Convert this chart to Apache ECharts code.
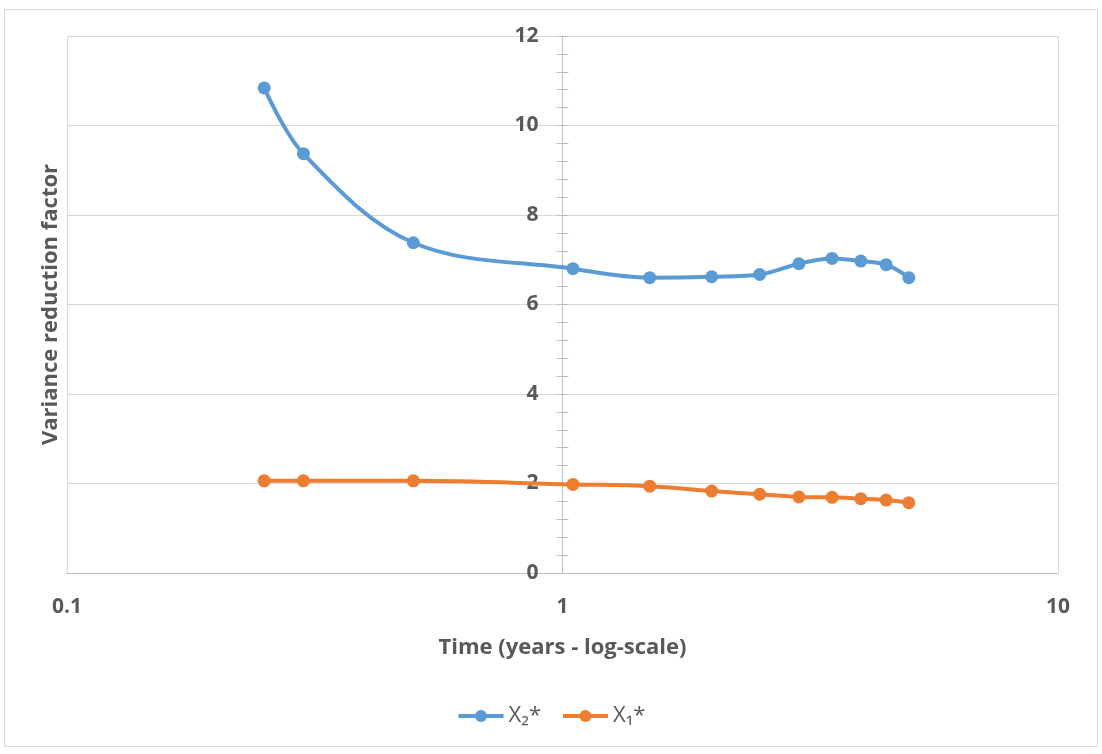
<!DOCTYPE html>
<html>
<head>
<meta charset="utf-8">
<script src="https://cdn.jsdelivr.net/npm/echarts@6/dist/echarts.min.js"></script>
<style>
html,body{margin:0;padding:0;background:#fff;}
#chart{width:1102px;height:754px;}
</style>
</head>
<body>
<div id="chart"></div>
<script>
const timeYears = [0.25, 0.3, 0.5, 1.05, 1.5, 2, 2.5, 3, 3.5, 4, 4.5, 5];
const x2Values = [10.84, 9.37, 7.38, 6.80, 6.60, 6.62, 6.67, 6.91, 7.03, 6.97, 6.89, 6.60];
const x1Values = [2.06, 2.06, 2.06, 1.98, 1.94, 1.83, 1.76, 1.70, 1.69, 1.66, 1.63, 1.57];
const seriesNames = ['X\u2082*', 'X\u2081*'];
const xAxisTitle = 'Time (years - log-scale)';
const yAxisTitle = 'Variance reduction factor';

const FONT = 'Open Sans';
const GRID = {left: 67, right: 44, top: 36, bottom: 181};
const gridWidth = 1102 - GRID.left - GRID.right;
const yOffset = -gridWidth / 2;

function pairs(xs, ys) { return xs.map((x, i) => [x, ys[i]]); }

const chart = echarts.init(document.getElementById('chart'), null, {renderer: 'canvas'});
chart.setOption({
  backgroundColor: '#fff',
  animation: false,
  textStyle: {fontFamily: FONT},
  graphic: [{
    type: 'rect', shape: {x: 4.5, y: 9.5, width: 1093, height: 737},
    style: {fill: null, stroke: '#d9d9d9', lineWidth: 1}, silent: true, z: -1
  }],
  grid: GRID,
  legend: {
    bottom: 22, left: 'center',
    itemWidth: 45, itemHeight: 15, itemGap: 20,
    lineStyle: {width: 4},
    textStyle: {fontFamily: FONT, fontSize: 22, color: '#595959'},
    data: seriesNames
  },
  xAxis: {
    type: 'log', logBase: 10, min: 0.1, max: 10,
    name: xAxisTitle, nameLocation: 'middle', nameGap: 64,
    nameTextStyle: {fontFamily: FONT, fontSize: 22, fontWeight: 'bold', color: '#595959'},
    axisLine: {show: true, lineStyle: {color: '#bfbfbf', width: 1}},
    axisTick: {show: false},
    axisLabel: {margin: 24, fontFamily: FONT, fontSize: 21, fontWeight: 'bold', color: '#595959',
      formatter: v => String(v)},
    splitLine: {show: true, lineStyle: {color: '#d9d9d9', width: 1}},
    minorTick: {show: false}, minorSplitLine: {show: false}
  },
  yAxis: [{
    type: 'value', min: 0, max: 12, interval: 2, position: 'left', offset: yOffset,
    name: yAxisTitle, nameLocation: 'middle', nameGap: 501, nameRotate: 90,
    nameTextStyle: {fontFamily: FONT, fontSize: 22, fontWeight: 'bold', color: '#595959'},
    axisLine: {show: true, lineStyle: {color: '#bfbfbf', width: 1}},
    axisTick: {show: true, length: 6, lineStyle: {color: '#bfbfbf'}},
    minorTick: {show: true, splitNumber: 5, length: 6, lineStyle: {color: '#bfbfbf'}},
    axisLabel: {margin: 24, fontFamily: FONT, fontSize: 21, fontWeight: 'bold', color: '#595959'},
    splitLine: {show: true, lineStyle: {color: '#d9d9d9', width: 1}}
  }, {
    type: 'value', min: 0, max: 12, interval: 2, position: 'left', offset: yOffset,
    axisLine: {show: false},
    axisTick: {show: true, inside: true, length: 6, lineStyle: {color: '#bfbfbf'}},
    minorTick: {show: true, splitNumber: 5, length: 6, lineStyle: {color: '#bfbfbf'}},
    axisLabel: {show: false},
    splitLine: {show: false}
  }],
  series: [{
    name: seriesNames[0], type: 'line', yAxisIndex: 0, smooth: 0.35,
    data: pairs(timeYears, x2Values),
    symbol: 'circle', symbolSize: 13,
    itemStyle: {color: '#5B9BD5'}, lineStyle: {color: '#5B9BD5', width: 4}, z: 3
  }, {
    name: seriesNames[1], type: 'line', yAxisIndex: 0, smooth: 0.35,
    data: pairs(timeYears, x1Values),
    symbol: 'circle', symbolSize: 13,
    itemStyle: {color: '#ED7D31'}, lineStyle: {color: '#ED7D31', width: 4}, z: 3
  }]
});
</script>
</body>
</html>
